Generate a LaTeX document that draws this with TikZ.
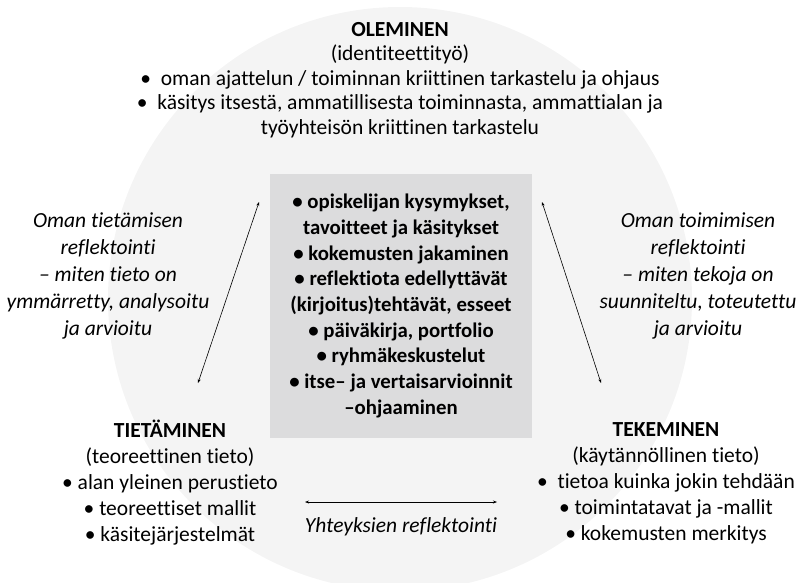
\documentclass[tikz,border=0pt]{standalone}
\usepackage{fontspec}
\setmainfont{Carlito}[Ligatures={TeX,NoCommon}]
\usetikzlibrary{arrows.meta}
\definecolor{circlegray}{HTML}{F4F4F4}
\definecolor{boxgray}{HTML}{DCDCDD}
\tikzset{
  block/.style={align=center, inner sep=0pt, font=\fontsize{21.5}{24.5}\selectfont},
  lowblock/.style={block, font=\fontsize{21.5}{26}\selectfont},
  sidenote/.style={align=center, inner sep=0pt, font=\fontsize{21.5}{26.8}\selectfont\itshape},
  methodbox/.style={fill=boxgray, align=center, inner sep=0pt, minimum width=262pt, minimum height=264pt,
    font=\fontsize{20.8}{25.7}\selectfont\bfseries},
  twoway/.style={{Stealth[length=4pt,width=3pt]}-{Stealth[length=4pt,width=3pt]}, line width=0.6pt},
}

\begin{document}
\begin{tikzpicture}[x=1pt, y=-1pt]
			%%%%% START %%%%%
			\useasboundingbox (0, 0) rectangle (799, 582);
			\clip (0, 0) rectangle (799, 582);
			
			\fill[circlegray] (400, 299) circle (292);
			
			\node[methodbox] (methods) at (401, 306) {%
				\textbullet\ opiskelijan kysymykset,\\
				tavoitteet ja käsitykset\\
				\textbullet\ kokemusten jakaminen\\
				\textbullet\ reflektiota edellyttävät\\
				(kirjoitus)tehtävät, esseet\\
				\textbullet\ päiväkirja, portfolio\\
				\textbullet\ ryhmäkeskustelut\\
				\textbullet\ itse-- ja vertaisarvioinnit\\
				--ohjaaminen};
			
			\node[block] (oleminen) at (400, 80) {%
				\textbf{OLEMINEN}\\
				(identiteettityö)\\
				\textbullet\ \ oman ajattelun / toiminnan kriittinen tarkastelu ja ohjaus\\
				\textbullet\ \ käsitys itsestä, ammatillisesta toiminnasta, ammattialan ja\\
				työyhteisön kriittinen tarkastelu};
			
			\node[lowblock] (tietaminen) at (170, 483) {%
				\textbf{TIETÄMINEN}\\
				(teoreettinen tieto)\\
				\textbullet\ alan yleinen perustieto\\
				\textbullet\ teoreettiset mallit\\
				\textbullet\ käsitejärjestelmät};
			
			\node[lowblock] (tekeminen) at (666, 483) {%
				\textbf{TEKEMINEN}\\
				(käytännöllinen tieto)\\
				\textbullet\ \ tietoa kuinka jokin tehdään\\
				\textbullet\ toimintatavat ja -mallit\\
				\textbullet\ kokemusten merkitys};
			
			\node[sidenote] (tietonote) at (108, 276) {%
				Oman tietämisen\\
				reflektointi\\
				--\ miten tieto on\\
				ymmärretty, analysoitu\\
				ja arvioitu};
			
			\node[sidenote] (tekonote) at (698, 276) {%
				Oman toimimisen\\
				reflektointi\\
				-- miten tekoja on\\
				suunniteltu, toteutettu\\
				ja arvioitu};
			
			\node[sidenote] (yhteys) at (401, 527) {Yhteyksien reflektointi};
			
			\coordinate (lt) at (259, 202);
			\coordinate (lb) at (198, 383);
			\coordinate (rt) at (542, 202);
			\coordinate (rb) at (601, 383);
			\coordinate (bl) at (305, 502);
			\coordinate (br) at (497, 502);
			
			\draw[twoway] (lt) -- (lb);
			\draw[twoway] (rt) -- (rb);
			\draw[twoway] (bl) -- (br);
			%%%%% END %%%%%
\end{tikzpicture}
\end{document}
